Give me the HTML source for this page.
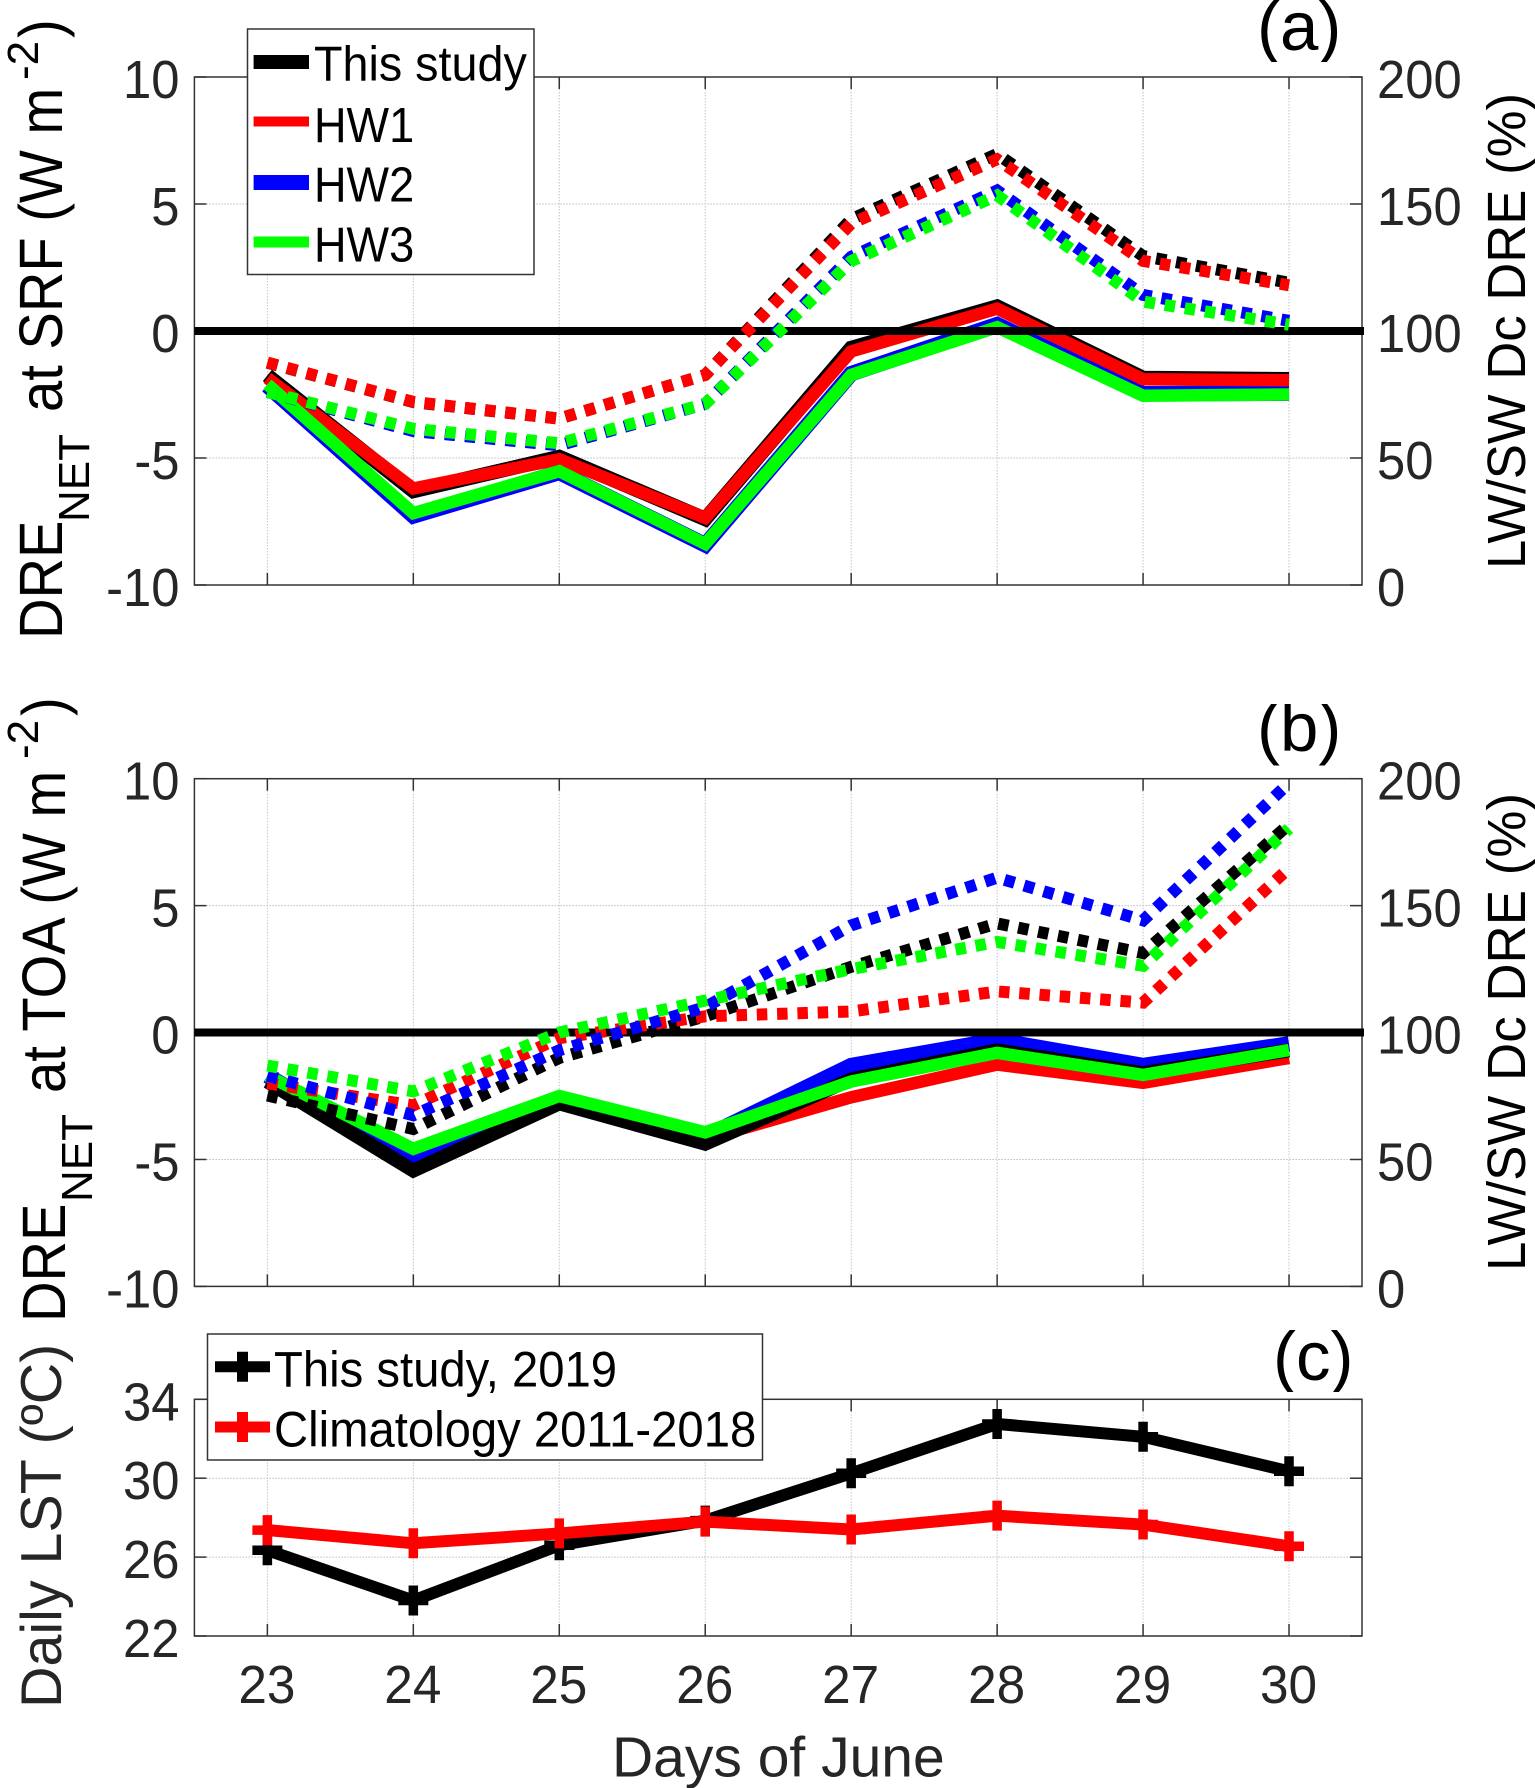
<!DOCTYPE html>
<html lang="en">
<head>
<meta charset="utf-8">
<title>DRE and LST chart</title>
<style>
html,body{margin:0;padding:0;background:#fff}
svg{display:block;font-family:"Liberation Sans",sans-serif}
.lab{fill:#262626}
.k{fill:#000}
</style>
</head>
<body>
<svg id="chart" xmlns="http://www.w3.org/2000/svg" width="1535" height="1788" viewBox="0 0 1535 1788">
<defs>
<clipPath id="clip-a"><rect x="1200" y="0" width="200" height="62"/></clipPath>
<clipPath id="clip-b"><rect x="1200" y="704" width="200" height="62"/></clipPath>
<clipPath id="clip-c"><rect x="1200" y="1328" width="200" height="64"/></clipPath>
</defs>
<rect width="1535" height="1788" fill="#fff"/>

<g id="panel-a"></g>
<g id="panel-b"></g>
<g id="panel-c"></g>

<g class="k">
<text transform="translate(62,639) rotate(-90) scale(.92,1)" font-size="61">DRE</text>
<text transform="translate(89,522) rotate(-90)" font-size="44">NET</text>
<text transform="translate(62,412) rotate(-90) scale(.92,1)" font-size="61">at SRF (W m</text>
<text transform="translate(38,80) rotate(-90)" font-size="44">-2</text>
<text transform="translate(62,38) rotate(-90) scale(.92,1)" font-size="61">)</text>
</g>
<g class="k">
<text transform="translate(65,1322) rotate(-90) scale(.92,1)" font-size="61">DRE</text>
<text transform="translate(92,1202) rotate(-90)" font-size="44">NET</text>
<text transform="translate(65,1093) rotate(-90) scale(.92,1)" font-size="61">at TOA (W m</text>
<text transform="translate(38,759) rotate(-90)" font-size="44">-2</text>
<text transform="translate(65,716) rotate(-90) scale(.92,1)" font-size="61">)</text>
</g>
<text class="lab" transform="translate(61,1708) rotate(-90)" font-size="57.4">Daily LST (ºC)</text>
<text class="k" transform="translate(1525,569) rotate(-90)" font-size="54" textLength="476" lengthAdjust="spacingAndGlyphs">LW/SW Dc DRE (%)</text>
<text class="k" transform="translate(1525,1271) rotate(-90)" font-size="54" textLength="478" lengthAdjust="spacingAndGlyphs">LW/SW Dc DRE (%)</text>
<text class="lab" x="612" y="1776.7" font-size="57">Days of June</text>

<g clip-path="url(#clip-a)"><text class="k" x="1257" y="50" font-size="69">(a)</text></g>
<g clip-path="url(#clip-b)"><text class="k" x="1257" y="751" font-size="69">(b)</text></g>
<g clip-path="url(#clip-c)"><text class="k" x="1273" y="1380" font-size="69">(c)</text></g>

<g font-size="49" fill="#000">
<rect x="247.5" y="29" width="286.5" height="245.5" fill="#fff" stroke="#333" stroke-width="1.5"/>
<g>
<line x1="253.6" x2="309" y1="62" y2="62" stroke="#000" stroke-width="14"/><text transform="translate(314,80.5) scale(.953,1)">This study</text></g>
<g>
<line x1="253.6" x2="309" y1="121.5" y2="121.5" stroke="#f00" stroke-width="10"/><text transform="translate(314,142) scale(.92,1)">HW1</text></g>
<g>
<line x1="253.6" x2="309" y1="182.5" y2="182.5" stroke="#00f" stroke-width="15"/><text transform="translate(314,201.5) scale(.92,1)">HW2</text></g>
<g>
<line x1="253.6" x2="309" y1="242" y2="242" stroke="#0f0" stroke-width="11"/><text transform="translate(314,261.5) scale(.92,1)">HW3</text></g>
</g>

<g font-size="50" fill="#000">
<rect x="207.5" y="1334" width="555" height="126" fill="#fff" stroke="#333" stroke-width="1.5"/>
<g>
<path d="M215 1366.7H270M242.5 1351.7V1381.7" stroke="#000" stroke-width="11" fill="none"/><text transform="translate(274,1386.7) scale(.945,1)">This study, 2019</text></g>
<g>
<path d="M215 1427H270M242.5 1412V1442" stroke="#f00" stroke-width="11" fill="none"/><text transform="translate(274,1446.5) scale(.945,1)">Climatology 2011-2018</text></g>
</g>
</svg>

<script>
const days = [23, 24, 25, 26, 27, 28, 29, 30];
const dreTicks = [-10, -5, 0, 5, 10];
const pctTicks = [0, 50, 100, 150, 200];
const lstTicks = [22, 26, 30, 34];

const aSolidBlack = [-1.75, -6.3, -4.96, -7.4, -0.67, 0.96, -1.85, -1.9];
const aSolidRed = [-1.85, -6.2, -5.05, -7.36, -0.8, 0.88, -1.9, -1.94];
const aSolidBlue = [-2.15, -7.28, -5.57, -8.42, -1.68, 0.25, -2.47, -2.45];
const aSolidGreen = [-2.1, -7.17, -5.52, -8.38, -1.73, 0.15, -2.55, -2.5];
const aDotBlack = [87.5, 72, 65.5, 82.7, 144, 169.7, 129.5, 119];
const aDotRed = [87.6, 72.1, 65.5, 82.7, 142.3, 167.6, 127.6, 118];
const aDotBlue = [76, 60.6, 55, 71.3, 129.2, 155.3, 114.2, 104];
const aDotGreen = [76, 61.5, 55.8, 71.3, 127.5, 153.4, 111.6, 102.5];

const bSolidBlack = [-1.93, -5.44, -2.79, -4.38, -1.85, -0.7, -1.6, -0.7];
const bSolidRed = [-1.9, -4.9, -2.7, -4.2, -2.55, -1.26, -1.98, -1];
const bSolidBlue = [-1.7, -5.05, -2.7, -4.1, -1.3, -0.3, -1.3, -0.45];
const bSolidGreen = [-1.7, -4.58, -2.5, -3.93, -1.93, -0.8, -1.67, -0.69];
const bDotBlack = [75.2, 62, 90, 106.4, 125.9, 143, 131.3, 182];
const bDotRed = [80, 71.3, 97.8, 106.4, 108.3, 116.2, 111.8, 164.8];
const bDotBlue = [83, 67.4, 93, 110, 142.2, 161, 144.2, 198.3];
const bDotGreen = [87, 76.8, 100, 112.6, 125, 135.7, 126.3, 180.4];

const lstThisStudy = [26.35, 23.8, 26.6, 27.85, 30.25, 32.75, 32.1, 30.35];
const lstClimatology = [27.37, 26.7, 27.2, 27.8, 27.4, 28.1, 27.65, 26.55];

const NS = 'http://www.w3.org/2000/svg';
const AX_LEFT = 194.4, AX_RIGHT = 1362, X_MIN = 22.5, X_MAX = 30.5;
function xScale(d) { return AX_LEFT + (d - X_MIN) / (X_MAX - X_MIN) * (AX_RIGHT - AX_LEFT); }
function linear(d0, d1, r0, r1) { return function (v) { return r0 + (v - d0) / (d1 - d0) * (r1 - r0); }; }
function mk(parent, tag, attrs) {
  const el = document.createElementNS(NS, tag);
  Object.keys(attrs).forEach(function (k) { el.setAttribute(k, attrs[k]); });
  parent.appendChild(el);
  return el;
}
function pts(values, yFn) {
  return values.map(function (v, i) { return xScale(days[i]).toFixed(2) + ',' + yFn(v).toFixed(2); }).join(' ');
}
function drawFrame(g, top, bottom, yFn, leftTicks, rightFn, rightTicks, prefix) {
  days.forEach(function (d) {
    const x = xScale(d);
    const gl = mk(g, 'line', { x1: x, x2: x, y1: top, y2: bottom, stroke: '#c4c4c4', 'stroke-width': 1, 'stroke-dasharray': '1.5 1.5' });
    
    
    const t1 = mk(g, 'line', { x1: x, x2: x, y1: bottom, y2: bottom - 12, stroke: '#333', 'stroke-width': 1.5 });
    
    
    const t2 = mk(g, 'line', { x1: x, x2: x, y1: top, y2: top + 12, stroke: '#333', 'stroke-width': 1.5 });
    
    
  });
  leftTicks.forEach(function (v) {
    const y = yFn(v);
    const gl = mk(g, 'line', { x1: AX_LEFT, x2: AX_RIGHT, y1: y, y2: y, stroke: '#bdbdbd', 'stroke-width': 1, 'stroke-dasharray': '1.5 1.5' });
    
    
    const t1 = mk(g, 'line', { x1: AX_LEFT, x2: AX_LEFT + 12, y1: y, y2: y, stroke: '#333', 'stroke-width': 1.5 });
    
    
    const t2 = mk(g, 'line', { x1: AX_RIGHT, x2: AX_RIGHT - 12, y1: y, y2: y, stroke: '#333', 'stroke-width': 1.5 });
    
    
    const lb = mk(g, 'text', { transform: 'translate(179.5,' + (y + 21) + ') scale(.94,1)', 'text-anchor': 'end', 'font-size': 54, fill: '#262626' });
    
    
    lb.textContent = String(v);
  });
  if (rightFn) {
    rightTicks.forEach(function (v) {
      const lb = mk(g, 'text', { transform: 'translate(1377,' + (rightFn(v) + 21) + ') scale(.94,1)', 'font-size': 54, fill: '#262626' });
      
      
      lb.textContent = String(v);
    });
  }
  const box = mk(g, 'rect', { x: AX_LEFT, y: top, width: AX_RIGHT - AX_LEFT, height: bottom - top, fill: 'none', stroke: '#333', 'stroke-width': 1.5 });
  
  
}
function solid(g, values, yFn, color, w, name) {
  const el = mk(g, 'polyline', { points: pts(values, yFn), fill: 'none', stroke: color, 'stroke-width': w, 'stroke-linejoin': 'miter', 'stroke-miterlimit': 10 });
  
  
}
function dotted(g, values, yFn, color, name) {
  const el = mk(g, 'polyline', { points: pts(values, yFn), fill: 'none', stroke: color, 'stroke-width': 12, 'stroke-dasharray': '10.5 9.8', 'stroke-linejoin': 'miter' });
  
  
}
function zeroLine(g, yFn, name) {
  const y = yFn(0);
  const el = mk(g, 'line', { x1: AX_LEFT, x2: AX_RIGHT + 2, y1: y, y2: y, stroke: '#000', 'stroke-width': 8 });
  
  
}

/* panel a */
const gA = document.getElementById('panel-a');
const yA = linear(-10, 10, 585, 77);
const yAR = linear(0, 200, 585, 77);
drawFrame(gA, 77, 585, yA, dreTicks, yAR, pctTicks, 'panel-a');
solid(gA, aSolidBlack, yA, '#000', 14.5, 'a-dre-this-study');
solid(gA, aSolidBlue, yA, '#00f', 15.5, 'a-dre-hw2');
solid(gA, aSolidRed, yA, '#f00', 12.5, 'a-dre-hw1');
solid(gA, aSolidGreen, yA, '#0f0', 12.5, 'a-dre-hw3');
zeroLine(gA, yA, 'a-zero-line');
dotted(gA, aDotBlack, yAR, '#000', 'a-ratio-this-study');
dotted(gA, aDotRed, yAR, '#f00', 'a-ratio-hw1');
dotted(gA, aDotBlue, yAR, '#00f', 'a-ratio-hw2');
dotted(gA, aDotGreen, yAR, '#0f0', 'a-ratio-hw3');

/* panel b */
const gB = document.getElementById('panel-b');
const yB = linear(-10, 10, 1286.4, 778.7);
const yBR = linear(0, 200, 1286.4, 778.7);
drawFrame(gB, 778.7, 1286.4, yB, dreTicks, yBR, pctTicks, 'panel-b');
solid(gB, bSolidRed, yB, '#f00', 12.5, 'b-dre-hw1');
solid(gB, bSolidBlue, yB, '#00f', 15.5, 'b-dre-hw2');
solid(gB, bSolidBlack, yB, '#000', 14, 'b-dre-this-study');
solid(gB, bSolidGreen, yB, '#0f0', 12.5, 'b-dre-hw3');
zeroLine(gB, yB, 'b-zero-line');
dotted(gB, bDotBlack, yBR, '#000', 'b-ratio-this-study');
dotted(gB, bDotRed, yBR, '#f00', 'b-ratio-hw1');
dotted(gB, bDotBlue, yBR, '#00f', 'b-ratio-hw2');
dotted(gB, bDotGreen, yBR, '#0f0', 'b-ratio-hw3');

/* panel c */
const gC = document.getElementById('panel-c');
const yC = linear(22, 34, 1636, 1399.3);
drawFrame(gC, 1399.3, 1636, yC, lstTicks, null, null, 'panel-c');
function lstSeries(values, color, name) {
  solid(gC, values, yC, color, 12, name + '-line');
  values.forEach(function (v, i) {
    const x = xScale(days[i]), y = yC(v);
    const m = mk(gC, 'path', { d: 'M' + (x - 15) + ' ' + y + 'H' + (x + 15) + 'M' + x + ' ' + (y - 15) + 'V' + (y + 15), stroke: color, 'stroke-width': 9.5, fill: 'none' });
    
    
  });
}
lstSeries(lstThisStudy, '#000', 'lst-this-study');
lstSeries(lstClimatology, '#f00', 'lst-climatology');
days.forEach(function (d) {
  const lb = mk(gC, 'text', { transform: 'translate(' + (xScale(d) - 0.5) + ',1703) scale(.95,1)', 'text-anchor': 'middle', 'font-size': 54, fill: '#262626' });
  
  
  lb.textContent = String(d);
});
</script>
</body>
</html>
